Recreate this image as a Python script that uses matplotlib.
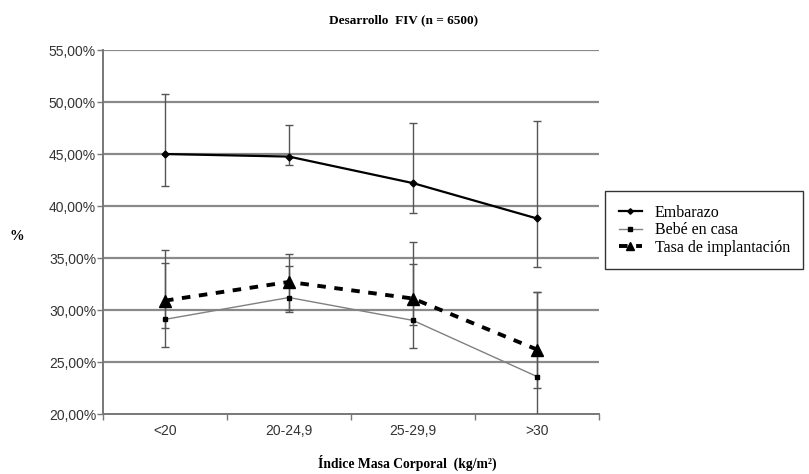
import numpy as np
import matplotlib.pyplot as plt
from matplotlib.ticker import FuncFormatter

categories = ["<20", "20-24,9", "25-29,9", ">30"]

embarazo = [45.0, 44.75, 42.2, 38.8]
embarazo_hi = [50.8, 47.8, 48.0, 48.2]
embarazo_lo = [41.9, 43.9, 39.3, 34.1]

bebe = [29.1, 31.2, 29.0, 23.6]
bebe_hi = [34.5, 34.2, 34.4, 31.7]
bebe_lo = [28.3, 30.0, 28.6, 22.5]

tasa = [30.9, 32.7, 31.1, 26.2]
tasa_hi = [35.8, 35.4, 36.5, 31.7]
tasa_lo = [26.4, 29.8, 26.3, 19.5]

serif = "Liberation Serif"
sans = "Liberation Sans"

fig = plt.figure(figsize=(8.09, 4.74), dpi=100)
ax = fig.add_axes([103 / 809, 1 - 414 / 474, 496 / 809, 364 / 474])

x = np.arange(len(categories))


def err(vals, lo, hi):
    v = np.array(vals)
    return [v - np.array(lo), np.array(hi) - v]


ebar = dict(fmt="none", ecolor="#555555", elinewidth=1.0, capsize=3, capthick=1.0, zorder=3)
ax.errorbar(x, embarazo, yerr=err(embarazo, embarazo_lo, embarazo_hi), **ebar)
ax.errorbar(x, bebe, yerr=err(bebe, bebe_lo, bebe_hi), **ebar)
ax.errorbar(x, tasa, yerr=err(tasa, tasa_lo, tasa_hi), **ebar)

ax.plot(x, embarazo, color="black", lw=1.6, marker="D", ms=3.5, zorder=4, label="Embarazo")
ax.plot(x, bebe, color="#808080", lw=1.0, marker="s", ms=3.5, mfc="black", mec="black",
        zorder=4, label="Bebé en casa")
ax.plot(x, tasa, color="black", lw=2.8, ls=(0, (2.2, 2.2)), marker="^", ms=8, zorder=4,
        label="Tasa de implantación")

ax.set_xlim(-0.5, 3.5)
ax.set_ylim(20, 55)
ax.set_yticks(np.arange(20, 56, 5))
ax.yaxis.set_major_formatter(FuncFormatter(lambda v, p: f"{v:.2f}".replace(".", ",") + "%"))
ax.set_xticks(x)
ax.set_xticklabels(categories)
ax.set_xticks(np.arange(-0.5, 3.6, 1.0), minor=True)
ax.tick_params(axis="x", which="major", length=0, pad=7, labelsize=10, labelcolor="#333333")
ax.tick_params(axis="x", which="minor", length=4, width=1, color="#777777")
ax.tick_params(axis="y", length=4, width=1, pad=1, color="#777777", labelsize=10,
               labelcolor="#333333")
for lab in ax.get_xticklabels() + ax.get_yticklabels():
    lab.set_fontfamily(sans)

for yv in np.arange(25, 56, 5):
    ax.axhline(yv, color="#8a8a8a", lw=1.6, zorder=1)

for s in ["top", "right"]:
    ax.spines[s].set_visible(False)
for s in ["left", "bottom"]:
    ax.spines[s].set_color("#777777")
    ax.spines[s].set_linewidth(1.4)

fig.text(404 / 809, 1 - 20 / 474, "Desarrollo  FIV (n = 6500)", ha="center", va="center",
         fontsize=9.5, fontweight="bold", family=serif)
fig.text(407 / 809, 1 - 463 / 474, "Índice Masa Corporal  (kg/m²)", ha="center",
         va="center", fontsize=9.8, fontweight="bold", family=serif)
fig.text(17 / 809, 1 - 236 / 474, "%", ha="center", va="center", fontsize=10.5,
         fontweight="bold", family=serif)

leg = fig.legend(loc="upper left", bbox_to_anchor=(605 / 809, 1 - 191 / 474),
                 prop={"family": serif, "size": 11.5}, frameon=True, fancybox=False,
                 edgecolor="black", handlelength=1.45, handletextpad=0.8, labelspacing=0.1,
                 borderpad=0.85, borderaxespad=0, markerscale=0.8)
leg.get_frame().set_linewidth(1.0)

fig.savefig("out.png", dpi=100)
